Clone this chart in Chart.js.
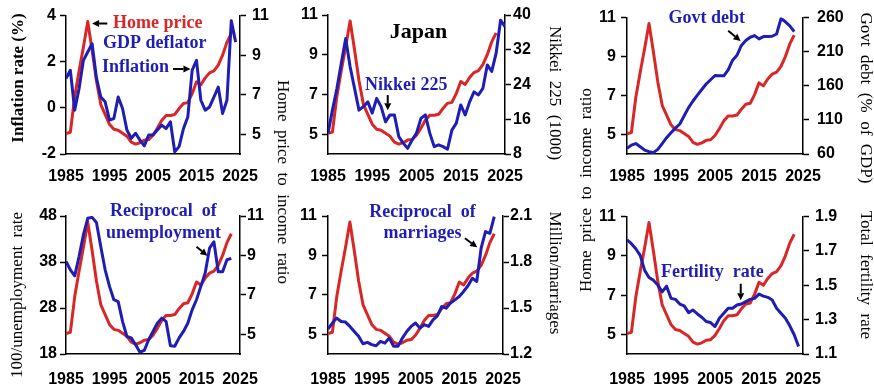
<!DOCTYPE html>
<html>
<head>
<meta charset="utf-8">
<script src="https://cdn.jsdelivr.net/npm/chart.js@4.4.1/dist/chart.umd.min.js"></script>
<style>
  body { margin: 0; background: #fff; }
  #wrap { position: relative; width: 874px; height: 390px; overflow: hidden; background: #fff; }
  canvas { position: absolute; }
  .ttl { position: absolute; white-space: nowrap; font-family: "Liberation Serif", "Times New Roman", serif;
         font-size: 17px; color: #000; transform-origin: center center; }
</style>
</head>
<body>
<div id="wrap"></div>
<script>
// ---- data (annual) ----
const FIRST_YEAR = 1985;
const xTicks = [1985, 1995, 2005, 2015, 2025];

// home price to income ratio, 1985-2023 (red, every panel)
const homePriceRatio = [5.04, 5.1, 6.9, 8.2, 9.4, 10.7, 9.25, 7.7, 6.5, 6.0,
  5.5, 5.25, 5.2, 5.05, 4.9, 4.6, 4.5, 4.57, 4.7, 4.73,
  4.95, 5.3, 5.7, 5.95, 5.95, 6.0, 6.3, 6.55, 6.6, 7.05,
  7.65, 7.5, 7.85, 8.1, 8.2, 8.5, 9.0, 9.65, 10.1];
const ratioTicks = [5, 7, 9, 11];

// GDP deflator inflation (%), 1985-2024
const inflation = [1.27, 1.63, -0.1, 0.83, 2.06, 2.42, 2.78, 1.3, 0.47, 0.26,
  -0.53, -0.46, 0.47, -0.03, -0.96, -1.32, -1.1, -1.4, -1.65, -1.18,
  -1.18, -0.96, -0.75, -0.9, -0.6, -1.9, -1.68, -0.9, -0.4, 1.63,
  2.06, 0.33, -0.1, 0.04, 0.47, 0.9, -0.24, 0.33, 3.78, 2.85];
const inflationTicks = [-2, 0, 2, 4];

// Nikkei 225 (1000), 1985-2025
const nikkei = [12.75, 18.1, 23.0, 28.9, 34.6, 28.1, 23.1, 18.1, 18.9, 20.0,
  17.4, 20.8, 18.9, 15.4, 17.0, 17.0, 12.0, 10.5, 9.3, 11.2,
  12.8, 16.2, 17.0, 12.8, 9.7, 10.1, 9.7, 9.1, 13.5, 15.1,
  19.3, 17.0, 20.0, 22.3, 21.6, 23.1, 28.5, 27.0, 31.2, 38.8, 37.3];
const nikkeiTicks = [8, 16, 24, 32, 40];

// government debt (% of GDP), 1985-2023
const govtDebt = [68.2, 73, 75.3, 70.6, 65.8, 63.4, 62, 66.8, 75.3, 84,
  91.2, 97.9, 104, 116, 128, 137.7, 146.3, 154.5, 162.6, 168.9,
  175.1, 174.6, 174.6, 183.3, 197.6, 204.8, 219.2, 226.4, 231.2, 233.6,
  228.8, 232.2, 232.2, 232.7, 236, 258.6, 253.8, 248, 239.4];
const debtTicks = [60, 110, 160, 210, 260];

// 100 / unemployment rate, 1985-2023
const recipUnemp = [38.1, 36.3, 35.0, 39.2, 43.9, 47.5, 47.7, 46.6, 41.3, 36.3,
  32.7, 29.8, 29.4, 25.1, 21.8, 21.5, 20.0, 18.4, 18.8, 21.1,
  22.9, 24.7, 25.8, 25.1, 19.8, 19.7, 21.5, 22.9, 24.7, 27.6,
  29.8, 32.7, 35.6, 41.0, 42.4, 35.9, 35.9, 38.5, 38.8];
const unempTicks = [18, 28, 38, 48];

// million / marriages, 1985-2023
const recipMarriages = [1.363, 1.402, 1.434, 1.412, 1.408, 1.38, 1.347, 1.315, 1.267, 1.276,
  1.261, 1.254, 1.282, 1.271, 1.304, 1.25, 1.25, 1.304, 1.347, 1.38,
  1.402, 1.369, 1.391, 1.38, 1.423, 1.449, 1.51, 1.499, 1.532, 1.553,
  1.575, 1.608, 1.645, 1.694, 1.673, 1.89, 1.998, 1.987, 2.096];
const marriageTicks = [1.2, 1.5, 1.8, 2.1];

// total fertility rate, 1985-2024
const fertility = [1.765, 1.742, 1.713, 1.674, 1.588, 1.545, 1.530, 1.501, 1.462, 1.495,
  1.424, 1.418, 1.391, 1.380, 1.341, 1.356, 1.333, 1.314, 1.289, 1.283,
  1.260, 1.308, 1.337, 1.366, 1.366, 1.385, 1.391, 1.405, 1.418, 1.424,
  1.449, 1.437, 1.430, 1.414, 1.366, 1.337, 1.308, 1.264, 1.212, 1.144];
const fertilityTicks = [1.1, 1.3, 1.5, 1.7, 1.9];

// ---- styling ----
const RED = '#d92626';
const BLUE = '#1e1eb4';
const tickFont = { family: '"Liberation Sans", Arial, sans-serif', weight: 'bold', size: 16 };
const noteFont = 'bold 18px "Liberation Serif", "Times New Roman", serif';

const toPoints = vals => vals.map((v, i) => ({ x: FIRST_YEAR + i, y: v }));
const fmtInt = v => String(v);
const fmt1 = v => v.toFixed(1);

function yAxis(position, min, max, tickVals, fmt, pad) {
  return {
    type: 'linear', position, min, max,
    afterFit: s => { s.width = 60; },
    afterBuildTicks: s => { s.ticks = tickVals.map(v => ({ value: v })); },
    grid: { drawOnChartArea: false, drawTicks: true, tickLength: 6, tickColor: '#000', tickWidth: 1.5 },
    border: { display: true, color: '#000', width: 1.5 },
    ticks: { color: '#000', font: tickFont, padding: pad, callback: fmt }
  };
}

// notes and arrows are given in data units of the x scale and the named y scale
function notesPlugin(notes, arrows) {
  return {
    id: 'notes',
    afterDatasetsDraw(chart) {
      const ctx = chart.ctx;
      const xs = chart.scales.x;
      ctx.save();
      notes.forEach(n => {
        const ys = chart.scales[n.axis];
        ctx.font = n.font || noteFont;
        ctx.fillStyle = n.color;
        ctx.textAlign = n.align || 'left';
        ctx.textBaseline = 'middle';
        ctx.fillText(n.text, xs.getPixelForValue(n.x), ys.getPixelForValue(n.y));
      });
      arrows.forEach(a => {
        const ys = chart.scales[a.axis];
        const x1 = xs.getPixelForValue(a.from[0]), y1 = ys.getPixelForValue(a.from[1]);
        const x2 = xs.getPixelForValue(a.to[0]), y2 = ys.getPixelForValue(a.to[1]);
        const ang = Math.atan2(y2 - y1, x2 - x1);
        const hl = 7, hw = 3.5;
        ctx.strokeStyle = '#000';
        ctx.fillStyle = '#000';
        ctx.lineWidth = 2;
        ctx.beginPath();
        ctx.moveTo(x1, y1);
        ctx.lineTo(x2 - hl * Math.cos(ang), y2 - hl * Math.sin(ang));
        ctx.stroke();
        ctx.beginPath();
        ctx.moveTo(x2, y2);
        ctx.lineTo(x2 - hl * Math.cos(ang) + hw * Math.sin(ang), y2 - hl * Math.sin(ang) - hw * Math.cos(ang));
        ctx.lineTo(x2 - hl * Math.cos(ang) - hw * Math.sin(ang), y2 - hl * Math.sin(ang) + hw * Math.cos(ang));
        ctx.closePath();
        ctx.fill();
      });
      ctx.restore();
    }
  };
}

function makePanel(p) {
  const canvas = document.createElement('canvas');
  const w = p.R - p.L + 120, h = p.B - p.T + 45;
  canvas.width = w; canvas.height = h;
  canvas.style.left = (p.L - 60) + 'px';
  canvas.style.top = (p.T - 15) + 'px';
  canvas.style.width = w + 'px';
  canvas.style.height = h + 'px';
  document.getElementById('wrap').appendChild(canvas);

  const line = (vals, color, axis) => ({
    data: toPoints(vals), borderColor: color, borderWidth: 3, pointRadius: 0,
    tension: 0, fill: false, yAxisID: axis, borderJoinStyle: 'round'
  });

  new Chart(canvas.getContext('2d'), {
    type: 'line',
    data: { datasets: [line(p.blue, BLUE, p.blueAxis), line(homePriceRatio, RED, p.redAxis)] },
    options: {
      responsive: false, animation: false, devicePixelRatio: 1, events: [],
      layout: { padding: { top: 15, left: 0, right: 0, bottom: 0 } },
      plugins: { legend: { display: false }, tooltip: { enabled: false } },
      scales: {
        x: {
          type: 'linear', min: 1985, max: 2025,
          afterFit: s => { s.height = 30; },
          afterBuildTicks: s => { s.ticks = xTicks.map(v => ({ value: v })); },
          grid: { drawOnChartArea: false, drawTicks: false },
          border: { display: true, color: '#000', width: 1.5 },
          ticks: { color: '#000', font: tickFont, padding: p.xPad, maxRotation: 0, autoSkip: false, callback: fmtInt }
        },
        yl: p.left,
        yr: p.right
      }
    },
    plugins: [notesPlugin(p.notes, p.arrows)]
  });
}

const ratioLeft = pad => yAxis('left', 4, 11, ratioTicks, fmtInt, pad);
const ratioRight = pad => yAxis('right', 4, 11, ratioTicks, fmtInt, pad);

makePanel({
  L: 66, R: 240, T: 15, B: 154, xPad: 13,
  left: yAxis('left', -2, 4, inflationTicks, fmtInt, 4),
  right: ratioRight(6),
  blue: inflation, blueAxis: 'yl', redAxis: 'yr',
  notes: [
    { text: 'Home price', x: 1995.8, y: 10.6, axis: 'yr', color: RED },
    { text: 'GDP deflator', x: 1993.5, y: 9.59, axis: 'yr', color: BLUE },
    { text: 'Inflation', x: 1993.3, y: 8.38, axis: 'yr', color: BLUE }
  ],
  arrows: [
    { from: [1994.5, 10.6], to: [1991.0, 10.6], axis: 'yr' },
    { from: [2009.6, 8.3], to: [2013.6, 8.3], axis: 'yr' }
  ]
});

makePanel({
  L: 328, R: 505, T: 15, B: 154, xPad: 13,
  left: ratioLeft(4),
  right: yAxis('right', 8, 40, nikkeiTicks, fmtInt, 2),
  blue: nikkei, blueAxis: 'yr', redAxis: 'yl',
  notes: [
    { text: 'Japan', x: 2005.45, y: 10.14, axis: 'yl', color: '#000', align: 'center',
      font: 'bold 22px "Liberation Serif", "Times New Roman", serif' },
    { text: 'Nikkei 225', x: 2002.7, y: 7.47, axis: 'yl', color: BLUE, align: 'center' }
  ],
  arrows: [
    { from: [1998.5, 6.97], to: [1998.5, 6.2], axis: 'yl' }
  ]
});

makePanel({
  L: 627, R: 803, T: 15, B: 154, xPad: 13,
  left: ratioLeft(5),
  right: yAxis('right', 60, 260, debtTicks, fmtInt, 8),
  blue: govtDebt, blueAxis: 'yr', redAxis: 'yl',
  notes: [
    { text: 'Govt debt', x: 2003.1, y: 10.95, axis: 'yl', color: BLUE, align: 'center' }
  ],
  arrows: [
    { from: [2008.0, 10.33], to: [2010.8, 9.8], axis: 'yl' }
  ]
});

makePanel({
  L: 66, R: 240, T: 216, B: 354, xPad: 16,
  left: yAxis('left', 18, 48, unempTicks, fmtInt, 3),
  right: ratioRight(1),
  blue: recipUnemp, blueAxis: 'yl', redAxis: 'yr',
  notes: [
    { text: 'Reciprocal  of', x: 2007.4, y: 11.22, axis: 'yr', color: BLUE, align: 'center' },
    { text: 'unemployment', x: 2007.4, y: 10.12, axis: 'yr', color: BLUE, align: 'center' }
  ],
  arrows: [
    { from: [2015.0, 9.44], to: [2017.5, 8.99], axis: 'yr' }
  ]
});

makePanel({
  L: 328, R: 503, T: 216, B: 354, xPad: 16,
  left: ratioLeft(5),
  right: yAxis('right', 1.2, 2.1, marriageTicks, fmt1, 1),
  blue: recipMarriages, blueAxis: 'yr', redAxis: 'yl',
  notes: [
    { text: 'Reciprocal  of', x: 2006.6, y: 11.2, axis: 'yl', color: BLUE, align: 'center' },
    { text: 'marriages', x: 2006.6, y: 10.12, axis: 'yl', color: BLUE, align: 'center' }
  ],
  arrows: [
    { from: [2016.3, 9.87], to: [2019.1, 9.41], axis: 'yl' }
  ]
});

makePanel({
  L: 627, R: 803, T: 216, B: 354, xPad: 16,
  left: ratioLeft(5),
  right: yAxis('right', 1.1, 1.9, fertilityTicks, fmt1, 6),
  blue: fertility, blueAxis: 'yr', redAxis: 'yl',
  notes: [
    { text: 'Fertility  rate', x: 2004.4, y: 8.17, axis: 'yl', color: BLUE, align: 'center' }
  ],
  arrows: [
    { from: [2010.85, 7.58], to: [2010.85, 6.74], axis: 'yl' }
  ]
});

// axis titles (rotated html text)
const titles = [
  { text: 'Inflation rate (%)', cx: 17, cy: 78, rot: -90, bold: true },
  { text: '100/unemployment  rate', cx: 17, cy: 295, rot: -90 },
  { text: 'Home  price  to  income  ratio', cx: 283, cy: 182, rot: 90 },
  { text: 'Nikkei  225  (1000)', cx: 555, cy: 93, rot: 90 },
  { text: 'Million/marriages', cx: 555, cy: 273, rot: 90 },
  { text: 'Home  price  to  income  ratio', cx: 586, cy: 190, rot: -90 },
  { text: 'Govt  debt  (%  of  GDP)', cx: 866, cy: 98, rot: 90 },
  { text: 'Total  fertility  rate', cx: 866, cy: 275, rot: 90 }
];
titles.forEach(t => {
  const d = document.createElement('div');
  d.className = 'ttl';
  d.textContent = t.text;
  d.style.whiteSpace = 'pre';
  if (t.bold) d.style.fontWeight = 'bold';
  document.getElementById('wrap').appendChild(d);
  const w = d.offsetWidth, h = d.offsetHeight;
  d.style.left = (t.cx - w / 2) + 'px';
  d.style.top = (t.cy - h / 2) + 'px';
  d.style.transform = 'rotate(' + t.rot + 'deg)';
});
</script>
</body>
</html>
